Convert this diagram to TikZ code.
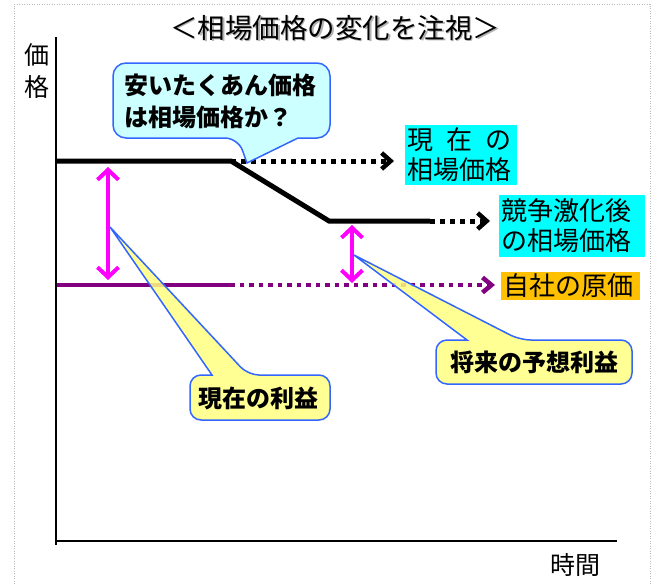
\documentclass[tikz,border=0pt]{standalone}
\usepackage{fontspec}
\newfontfamily\jp{Noto Sans CJK JP}
\usetikzlibrary{arrows.meta}
\definecolor{bubcyan}{HTML}{CCFFFF}
\definecolor{labcyan}{HTML}{00FFFF}
\definecolor{laborange}{HTML}{FFC000}
\definecolor{calyellow}{HTML}{FFFF80}
\definecolor{calborder}{HTML}{3366FF}
\definecolor{costpurple}{HTML}{800080}
\definecolor{gapmagenta}{HTML}{FF00FF}
\begin{document}
\begin{tikzpicture}[x=1pt,y=-1pt,
  frame/.style={gray!55, line width=1pt, dash pattern=on 1pt off 1.5pt},
  axisline/.style={black, line width=2.5pt},
  pricesolid/.style={black, line width=5pt},
  pricedot/.style={black, line width=5pt, dash pattern=on 5pt off 5pt,
     -{Straight Barb[length=9pt,width=16pt,line width=4.5pt]}},
  costsolid/.style={costpurple, line width=4.5pt},
  costdot/.style={costpurple, line width=4.5pt, dash pattern=on 4.5pt off 5pt,
     -{Straight Barb[length=9pt,width=15pt,line width=4.5pt]}},
  gap/.style={gapmagenta, line width=4pt,
     {Straight Barb[length=10pt,width=21pt,line width=4pt]}-{Straight Barb[length=10pt,width=21pt,line width=4pt]}},
  bubble/.style={fill=bubcyan, draw=calborder, line width=1.5pt, rounded corners=13pt},
  yellowcall/.style={fill=calyellow, fill opacity=0.85, draw=calborder, draw opacity=1, line width=1.5pt, rounded corners=11pt},
  labelbox/.style={inner sep=0pt, align=left, font=\jp\fontsize{26}{30}\selectfont},
  calltext/.style={inner sep=0pt, align=left, font=\jp\bfseries\fontsize{24}{32}\selectfont},
  axislabel/.style={inner sep=0pt, align=center, font=\jp\fontsize{25}{31.5}\selectfont}
]
\useasboundingbox (0,0) rectangle (658,584);
% frame
\draw[frame] (14,584) -- (14,4) -- (650,4) -- (650,584);
% title with shadow
\node[inner sep=0pt, font=\jp\fontsize{27.5}{30}\selectfont, text=gray!60] at (336.5,29.5) {＜相場価格の変化を注視＞};
\node[inner sep=0pt, font=\jp\fontsize{27.5}{30}\selectfont] (title) at (335,28) {＜相場価格の変化を注視＞};
% axes
\coordinate (ytop) at (56,37);
\coordinate (orig) at (56,545);
\coordinate (xaxl) at (56,541);
\coordinate (xend) at (617,541);
\draw[axisline] (ytop) -- (orig);
\draw[axisline] (xaxl) -- (xend);
\node[axislabel] (ylab) at (37,71) {価\\格};
\node[axislabel] (xlab) at (575,565) {時間};
% price lines
\coordinate (a0) at (57,161);
\coordinate (a1) at (231,161);
\coordinate (a2) at (329,221);
\coordinate (a3) at (430,221);
\coordinate (a4) at (490,221);
\coordinate (b1) at (394,161);
\draw[pricesolid, line join=miter] (a0) -- (a1) -- (a2) -- (a3);
\draw[pricedot] (a1) -- (b1);
\draw[pricedot] (a3) -- (a4);
% cost line
\coordinate (p0) at (57,285);
\coordinate (p1) at (230,285);
\coordinate (p2) at (495,285);
\draw[costsolid] (p0) -- (p1);
\draw[costdot] (p1) -- (p2);
% margin arrows
\coordinate (g1t) at (108,167);
\coordinate (g1b) at (108,280);
\coordinate (g2t) at (352,225);
\coordinate (g2b) at (352,283);
\draw[gap] (g1t) -- (g1b);
\draw[gap] (g2t) -- (g2b);
% right labels
\node[labelbox, fill=labcyan, minimum width=112pt, minimum height=60pt, text width=108pt] (now) at (461,155) {現\hspace{0.5em}在\hspace{0.5em}の\\相場価格};
\node[labelbox, fill=labcyan, minimum width=146pt, minimum height=62pt, text width=142pt] (after) at (572,226) {競争激化後\\の相場価格};
\node[labelbox, fill=laborange, minimum width=139pt, minimum height=28pt, text width=135pt] (cost) at (570.5,286) {自社の原価};
% question bubble
\coordinate (qtip) at (247,163);
\path[bubble] (298,138) -- (330,138) -- (330,63) -- (113,63) -- (113,138) -- (238,138) [sharp corners] -- (qtip) -- cycle;
\node[calltext, anchor=west] (q) at (124,101) {安いたくあん価格\\は相場価格か？};
% current profit callout
\coordinate (ctip) at (110,227);
\path[yellowcall] (212,375) -- (190,375) -- (190,420) -- (330,420) -- (330,375) -- (248,375) [sharp corners] -- (ctip) -- cycle;
\node[calltext] (cur) at (258,398) {現在の利益};
% future profit callout
\coordinate (ftip) at (354,255);
\path[yellowcall] (467,340) -- (436,340) -- (436,384) -- (632,384) -- (632,340) -- (520,340) [sharp corners] -- (ftip) -- cycle;
\node[calltext] (fut) at (534,362) {将来の予想利益};
\end{tikzpicture}
\end{document}
